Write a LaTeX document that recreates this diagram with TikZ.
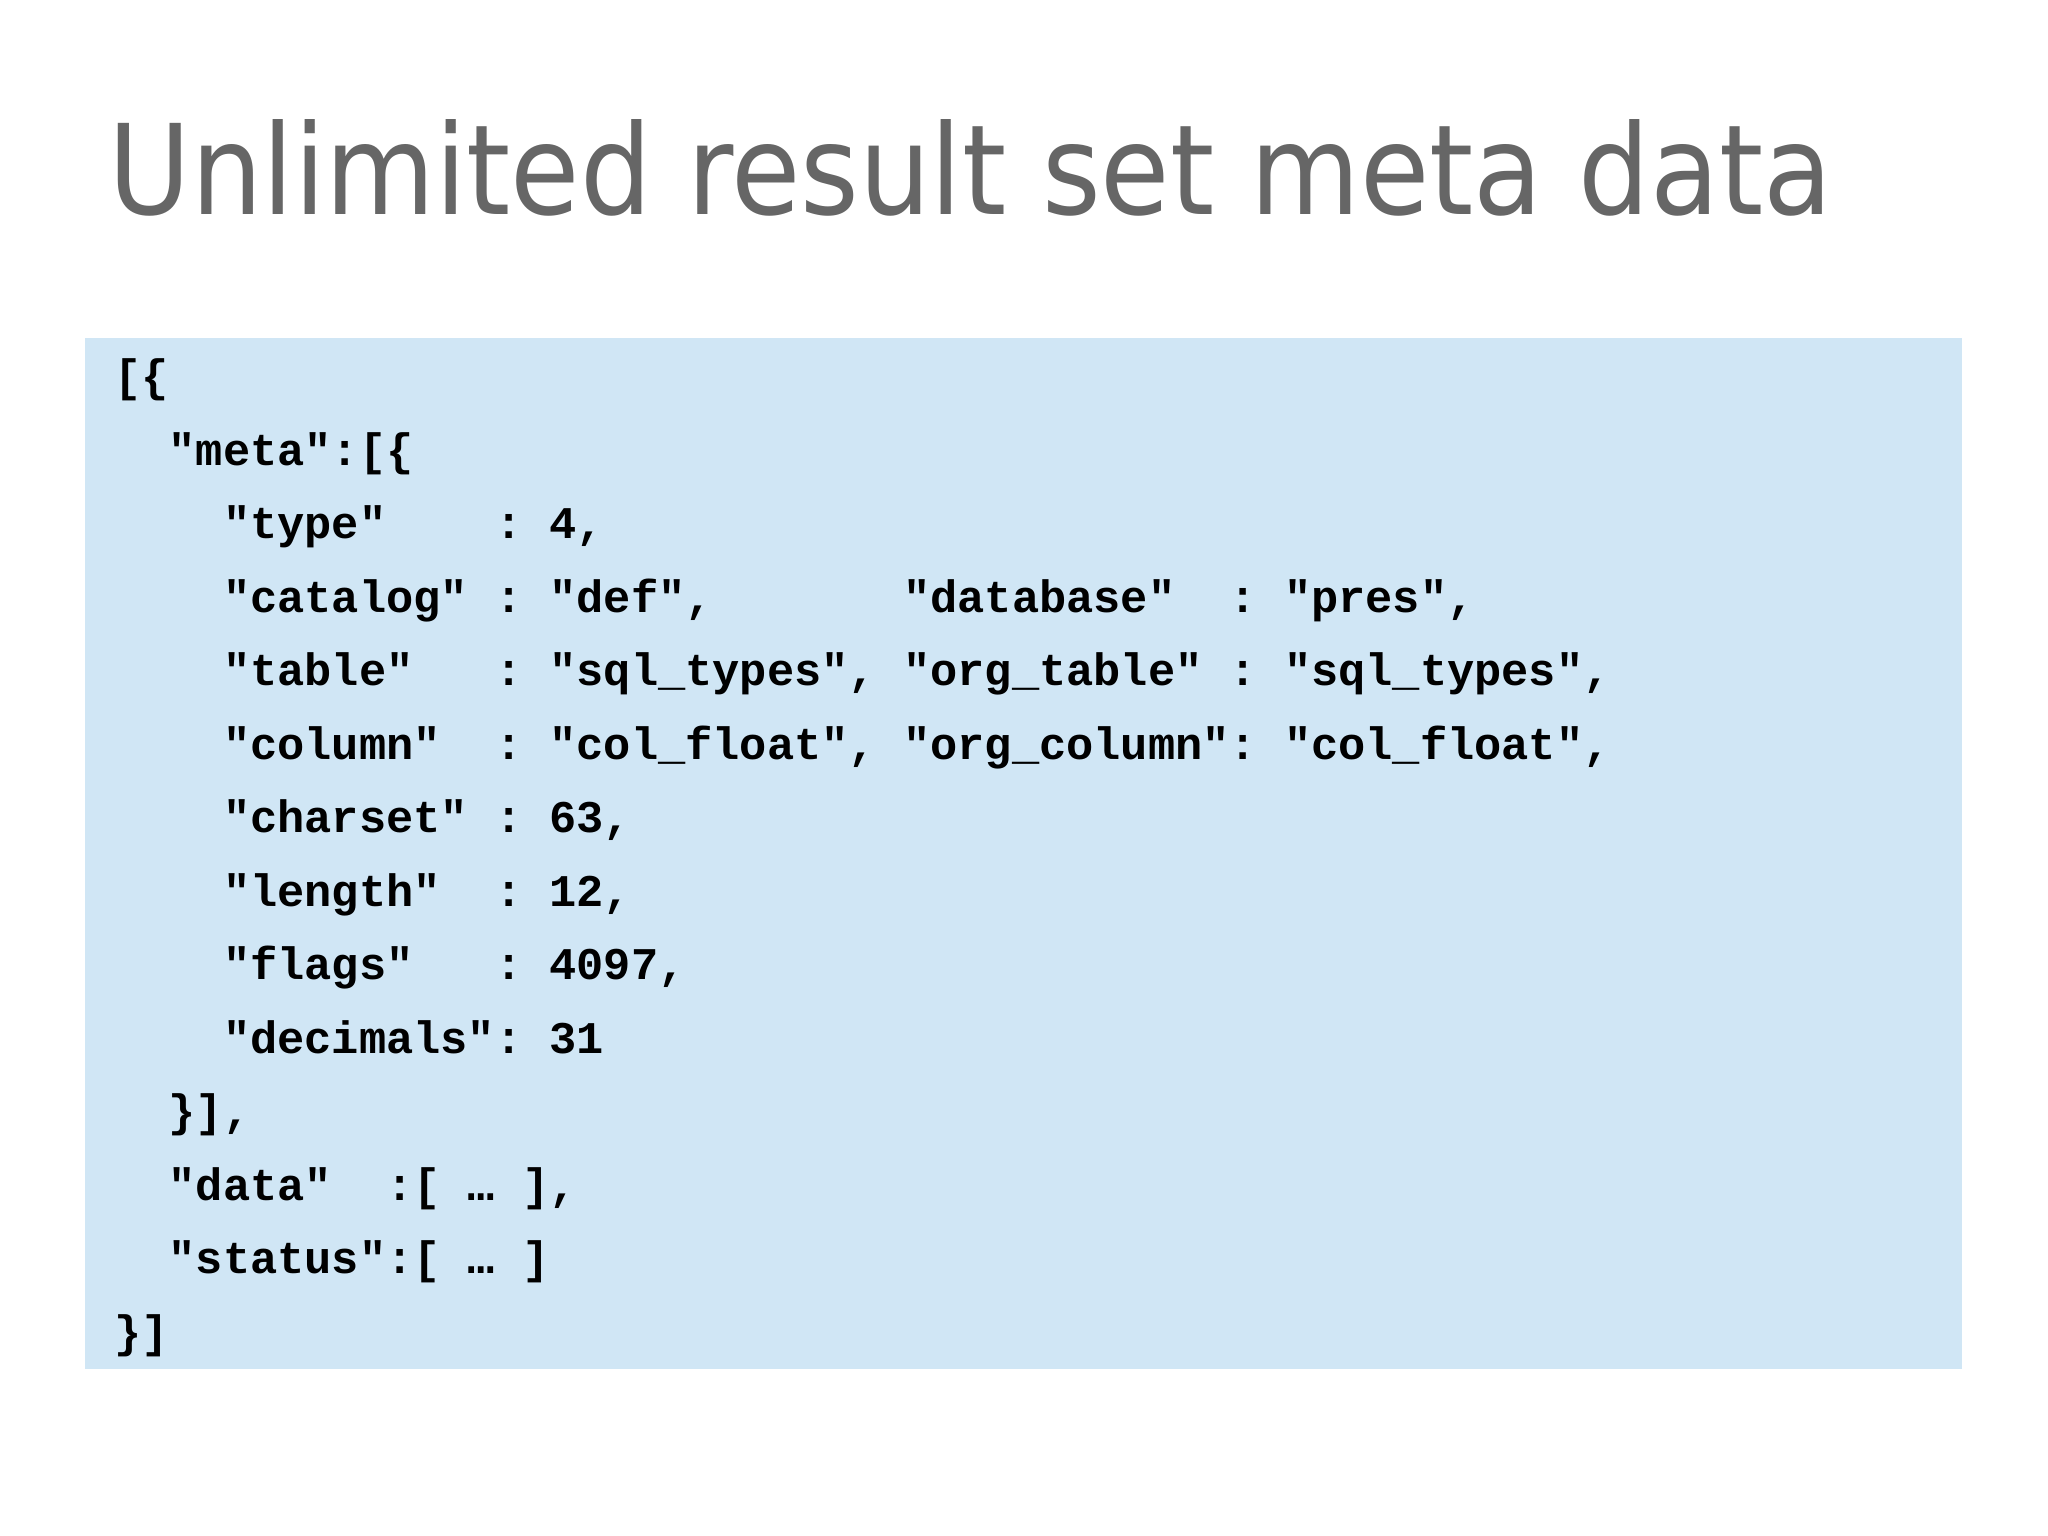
\documentclass[tikz,border=0pt]{standalone}
\usepackage{fontspec}
\setmainfont{DejaVu Sans}
\setmonofont{Liberation Mono}
\definecolor{boxblue}{RGB}{208,230,245}
\definecolor{titlegray}{RGB}{102,102,102}
\begin{document}
\begin{tikzpicture}[x=1cm,y=1cm,
  codeline/.style={anchor=base west,inner sep=0pt,font=\ttfamily\bfseries\fontsize{12.9pt}{15pt}\selectfont}]
\useasboundingbox (0,0) rectangle (20.48,15.36);
\fill[boxblue] (0.85,15.36-13.69) rectangle (19.62,15.36-3.38);
\node[anchor=base west,inner sep=0pt,text=titlegray] (title) at (1.08,13.21)
  {\resizebox{17.24cm}{0.95cm}{Unlimited result set meta data}};
\foreach \i/\t in {
 0/{[\{},
 1/{\ \ "meta":[\{},
 2/{\ \ \ \ "type"\ \ \ \ :\ 4,},
 3/{\ \ \ \ "catalog"\ :\ "def",\ \ \ \ \ \ \ "database"\ \ :\ "pres",},
 4/{\ \ \ \ "table"\ \ \ :\ "sql\_types",\ "org\_table"\ :\ "sql\_types",},
 5/{\ \ \ \ "column"\ \ :\ "col\_float",\ "org\_column":\ "col\_float",},
 6/{\ \ \ \ "charset"\ :\ 63,},
 7/{\ \ \ \ "length"\ \ :\ 12,},
 8/{\ \ \ \ "flags"\ \ \ :\ 4097,},
 9/{\ \ \ \ "decimals":\ 31},
 10/{\ \ \}],},
 11/{\ \ "data"\ \ :[\ …\ ],},
 12/{\ \ "status":[\ …\ ]},
 13/{\}]}}
 \node[codeline] (line\i) at (1.136,11.44-\i*0.735) {\t};
\end{tikzpicture}
\end{document}
